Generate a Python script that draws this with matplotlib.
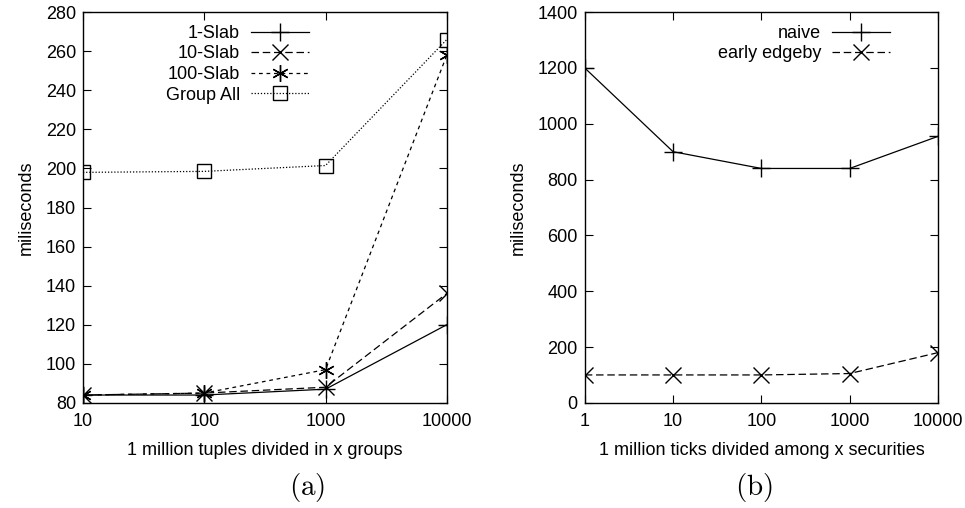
"""Two gnuplot-style panels: slab grouping (a) and edgeby (b)"""
import matplotlib
matplotlib.use("Agg")
import matplotlib.pyplot as plt
import matplotlib as mpl
from matplotlib.ticker import FixedLocator, NullLocator, FixedFormatter

# ── data ──
groups = [10, 100, 1000, 10000]
slab1 = [84, 84, 87, 120]
slab10 = [84, 85, 88, 136]
slab100 = [84, 85, 97, 258]
group_all = [198, 198.5, 201.5, 266]

securities = [1, 10, 100, 1000, 10000]
naive = [1200, 900, 840, 840, 955]
early_edgeby = [100, 100, 100, 105, 180]

mpl.rcParams.update({
    "font.family": ["Liberation Sans", "DejaVu Sans"],
    "font.size": 13,
    "mathtext.fontset": "cm",
    "axes.linewidth": 1.0,
    "xtick.direction": "in",
    "ytick.direction": "in",
    "xtick.top": True,
    "ytick.right": True,
    "xtick.major.size": 6,
    "ytick.major.size": 6,
    "xtick.major.pad": 7,
    "ytick.major.pad": 5,
})

fig = plt.figure(figsize=(9.65, 5.08), dpi=100)
ax1 = fig.add_axes([0.086, 0.207, 0.377, 0.769])
ax2 = fig.add_axes([0.606, 0.207, 0.366, 0.769])

asterisk = (6, 2, 0)
kw = dict(color="black", lw=0.9, mfc="none", mew=1.0)

# ── (a) ──
ax1.plot(groups, slab1, ls="-", marker="+", ms=13, label="1-Slab", **kw)
ax1.plot(groups, slab10, ls=(0, (6, 3)), marker="x", ms=11, label="10-Slab", **kw)
ax1.plot(groups, slab100, ls=(0, (3, 3)), marker=asterisk, ms=12, label="100-Slab", **kw)
ax1.plot(groups, group_all, ls=(0, (1, 1.5)), marker="s", ms=9.5, label="Group All", **kw)
ax1.set_xscale("log")
ax1.set_xlim(10, 10000)
ax1.set_ylim(80, 280)
ax1.xaxis.set_major_locator(FixedLocator(groups))
ax1.xaxis.set_major_formatter(FixedFormatter([str(g) for g in groups]))
ax1.xaxis.set_minor_locator(NullLocator())
ax1.set_yticks(range(80, 281, 20))
ax1.set_xlabel("1 million tuples divided in x groups", labelpad=9)
ax1.set_ylabel("miliseconds", labelpad=8)
ax1.legend(loc="upper right", bbox_to_anchor=(0.655, 1.0), frameon=False,
           markerfirst=False, handlelength=3.2, labelspacing=0.2,
           handletextpad=0.6, borderaxespad=0.3)
fig.text(0.318, 0.026, r"$\mathrm{(a)}$", ha="center", va="baseline", fontsize=21)

# ── (b) ──
ax2.plot(securities, naive, ls="-", marker="+", ms=13, label="naive", **kw)
ax2.plot(securities, early_edgeby, ls=(0, (6, 3)), marker="x", ms=11, label="early edgeby", **kw)
ax2.set_xscale("log")
ax2.set_xlim(1, 10000)
ax2.set_ylim(0, 1400)
ax2.xaxis.set_major_locator(FixedLocator(securities))
ax2.xaxis.set_major_formatter(FixedFormatter([str(s) for s in securities]))
ax2.xaxis.set_minor_locator(NullLocator())
ax2.set_yticks(range(0, 1401, 200))
ax2.set_xlabel("1 million ticks divided among x securities", labelpad=9)
ax2.set_ylabel("miliseconds", labelpad=8)
ax2.legend(loc="upper right", bbox_to_anchor=(0.9, 1.0), frameon=False,
           markerfirst=False, handlelength=3.2, labelspacing=0.2,
           handletextpad=0.6, borderaxespad=0.3)
fig.text(0.781, 0.026, r"$\mathrm{(b)}$", ha="center", va="baseline", fontsize=21)

fig.savefig("out.png", dpi=100)
